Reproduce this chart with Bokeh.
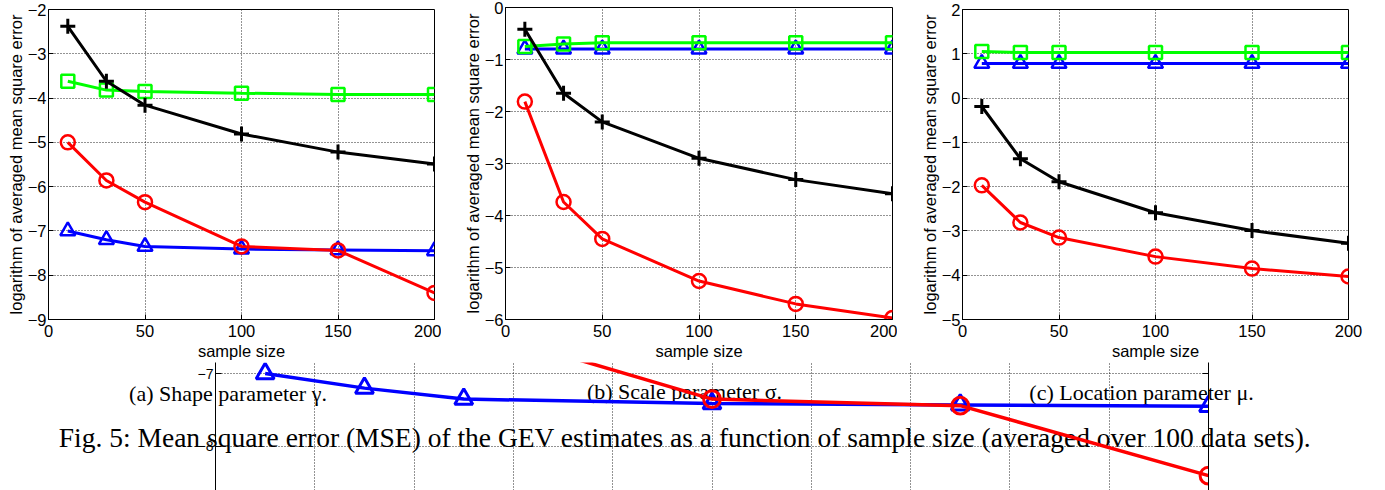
from bokeh.plotting import figure
from bokeh.layouts import column, row
from bokeh.models import Range1d, SingleIntervalTicker, LinearAxis, Label
from bokeh.embed import file_html
from bokeh.resources import INLINE

# ---------------- data ----------------
sample_size = [10, 30, 50, 100, 150, 200]

shape_plus = [-2.38, -3.62, -4.16, -4.81, -5.22, -5.49]
shape_square = [-3.62, -3.82, -3.85, -3.89, -3.92, -3.92]
shape_circle = [-5.00, -5.86, -6.35, -7.35, -7.44, -8.40]
shape_triangle = [-7.00, -7.20, -7.35, -7.41, -7.43, -7.45]

scale_plus = [-0.42, -1.65, -2.20, -2.90, -3.31, -3.58]
scale_square = [-0.75, -0.70, -0.68, -0.68, -0.68, -0.68]
scale_circle = [-1.81, -3.74, -4.45, -5.26, -5.70, -5.97]
scale_triangle = [-0.80, -0.80, -0.80, -0.80, -0.80, -0.80]

loc_plus = [-0.19, -1.37, -1.89, -2.59, -2.99, -3.28]
loc_square = [1.05, 1.03, 1.03, 1.03, 1.03, 1.03]
loc_circle = [-1.97, -2.81, -3.15, -3.58, -3.85, -4.03]
loc_triangle = [0.78, 0.78, 0.78, 0.78, 0.78, 0.78]

x_label = "sample size"
y_label = "logarithm of averaged mean square error"

sub_captions = ["(a) Shape parameter \u03b3.", "(b) Scale parameter \u03c3.", "(c) Location parameter \u03bc."]
fig_caption = "Fig. 5: Mean square error (MSE) of the GEV estimates as a function of sample size (averaged over 100 data sets)."

SANS = "Liberation Sans"
SERIF = "Liberation Serif"


def style_axis(ax, size="16.5px", tick_in=5, label_standoff=2, title_standoff=0):
    ax.axis_line_color = "black"
    ax.axis_line_width = 1
    ax.major_tick_in = tick_in
    ax.major_tick_out = 0
    ax.major_tick_line_color = "black"
    ax.minor_tick_line_color = None
    ax.major_label_text_font = SANS
    ax.major_label_text_font_size = size
    ax.major_label_text_color = "black"
    ax.major_label_standoff = label_standoff
    ax.axis_label_text_font = SANS
    ax.axis_label_text_font_size = size
    ax.axis_label_text_font_style = "normal"
    ax.axis_label_text_color = "black"
    ax.axis_label_standoff = title_standoff


def style_grid(p):
    p.grid.grid_line_color = "black"
    p.grid.grid_line_alpha = 0.85
    p.grid.grid_line_width = 1
    p.grid.grid_line_dash = "1 2"


def draw_series(p, plus, square, circle, triangle, lw=3, msize=1.0):
    p.line(sample_size, triangle, line_color="#0000ff", line_width=lw)
    p.scatter(sample_size, triangle, marker="triangle", size=15 * msize,
              fill_color=None, line_color="#0000ff", line_width=lw - 0.5)
    p.line(sample_size, circle, line_color="#ff0000", line_width=lw)
    p.scatter(sample_size, circle, marker="circle", size=14 * msize,
              fill_color=None, line_color="#ff0000", line_width=lw - 0.5)
    p.line(sample_size, square, line_color="#00ff00", line_width=lw)
    p.scatter(sample_size, square, marker="square", size=13 * msize,
              fill_color=None, line_color="#00ff00", line_width=lw - 0.5)
    p.line(sample_size, plus, line_color="black", line_width=lw)
    p.scatter(sample_size, plus, marker="cross", size=15 * msize,
              line_color="black", line_width=lw)


def panel(plus, square, circle, triangle, y0, y1, width, bl, br, bt, bb):
    p = figure(width=width, height=362, x_range=Range1d(0, 200), y_range=Range1d(y0, y1),
               output_backend="svg", toolbar_location=None, frame_align=False,
               min_border_left=bl, min_border_right=br, min_border_top=bt, min_border_bottom=bb,
               background_fill_color="white", border_fill_color="white")
    p.xaxis.ticker = SingleIntervalTicker(interval=50, num_minor_ticks=0)
    p.yaxis.ticker = SingleIntervalTicker(interval=1, num_minor_ticks=0)
    p.xaxis.axis_label = x_label
    p.yaxis.axis_label = y_label
    for ax in p.xaxis:
        style_axis(ax, label_standoff=5, title_standoff=2)
    for ax in p.yaxis:
        style_axis(ax)
    style_grid(p)
    p.outline_line_color = "black"
    p.outline_line_alpha = 1
    p.outline_line_width = 1
    draw_series(p, plus, square, circle, triangle)
    return p


fa = panel(shape_plus, shape_square, shape_circle, shape_triangle, -9, -2, 441, 48, 7, 9, 41)
fb = panel(scale_plus, scale_square, scale_circle, scale_triangle, -6, 0, 456, 64, 5, 7, 42)
fc = panel(loc_plus, loc_square, loc_circle, loc_triangle, -5, 2, 488, 65, 37, 9, 41)

# ---------------- caption strip (page pixel coordinates, y downward) ----------------
cap = figure(width=1385, height=128, x_range=Range1d(0, 1385), y_range=Range1d(490, 362),
             output_backend="svg", toolbar_location=None, frame_align=False,
             x_axis_location=None, y_axis_location=None,
             min_border_left=0, min_border_right=0, min_border_top=0, min_border_bottom=0,
             background_fill_color="white", border_fill_color="white")
cap.grid.visible = False
cap.outline_line_color = None

cap_pos = [(227.5, 392.5), (684.0, 390.5), (1141.0, 391.7)]
for txt, (px, py) in zip(sub_captions, cap_pos):
    cap.add_layout(Label(x=px, y=py, text=txt, text_font=SERIF, text_font_size="22px",
                         text_align="center", text_baseline="alphabetic", text_color="black"))
cap.add_layout(Label(x=684.5, y=436.7, text=fig_caption, text_font=SERIF, text_font_size="27.5px",
                     text_align="center", text_baseline="alphabetic", text_color="black"))

# ---------------- enlarged overlay of panel (a), drawn over the captions ----------------
ov = figure(width=1385, height=128, x_range=Range1d(0, 200), y_range=Range1d(-8.603, -6.849),
            output_backend="svg", toolbar_location=None, x_axis_location=None, frame_align=False,
            min_border_left=215, min_border_right=177, min_border_top=0, min_border_bottom=0,
            background_fill_color=None, border_fill_color=None,
            styles={"margin-top": "-128px"})
ov.outline_line_color = None
ov.yaxis.ticker = SingleIntervalTicker(interval=1, num_minor_ticks=0)
style_axis(ov.yaxis[0], size="14px", tick_in=6)
right_ax = LinearAxis(ticker=SingleIntervalTicker(interval=1, num_minor_ticks=0))
style_axis(right_ax, size="14px", tick_in=6)
right_ax.major_label_text_alpha = 0
ov.add_layout(right_ax, "right")
ov.xgrid.ticker = SingleIntervalTicker(interval=20, num_minor_ticks=0)
ov.ygrid.ticker = SingleIntervalTicker(interval=1, num_minor_ticks=0)
style_grid(ov)
draw_series(ov, shape_plus, shape_square, shape_circle, shape_triangle, lw=3.5, msize=1.2)

layout = column(row(fa, fb, fc), cap, ov)
open("out.html", "w").write(file_html(layout, INLINE))
